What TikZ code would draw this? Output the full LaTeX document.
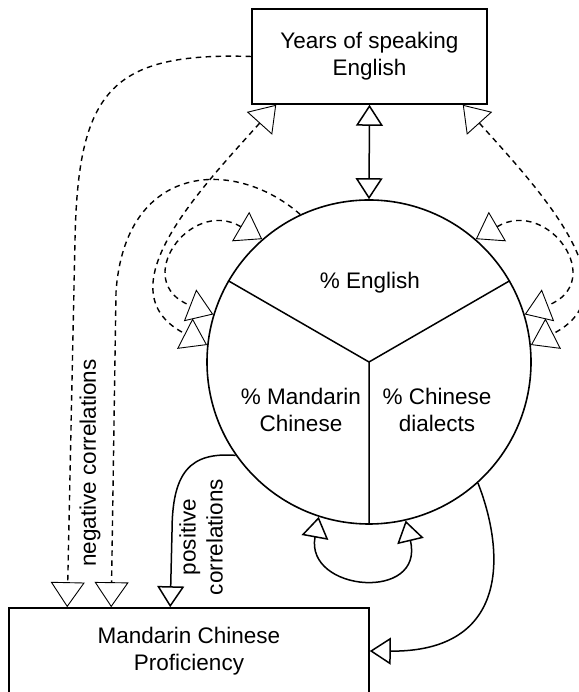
\documentclass[tikz,border=0pt]{standalone}
\usepackage{fontspec}
\setmainfont{Liberation Sans}
\usetikzlibrary{arrows.meta}

\begin{document}
\begin{tikzpicture}[x=1pt, y=1pt, font=\fontsize{22.5}{27}\selectfont,
    box/.style={draw, line width=1.6pt, align=center, inner sep=0pt},
    sol/.style={line width=1.5pt, >={Triangle[open, length=21pt, width=27pt]}},
    neg/.style={line width=1.4pt, dash pattern=on 5.5pt off 4.5pt, >={Triangle[open, length=25pt, width=34pt, line width=0.9pt]}}]
\useasboundingbox (0,0) rectangle (578,692);

\node[box, minimum width=235pt, minimum height=95pt] (yrs) at (369.5,635.5) {Years of speaking\\English};
\node[box, minimum width=360pt, minimum height=86pt] (prof) at (189,41) {Mandarin Chinese\\Proficiency};
\node[draw, circle, line width=1.6pt, minimum size=324pt, inner sep=0pt] (pie) at (369,330) {};
\draw[line width=1.5pt] (pie.150) -- (pie.center) -- (pie.30) (pie.center) -- (pie.-90);

\node (eng) at (370,409) {\% English};
\node[align=center] (man) at (301,282) {\% Mandarin\\Chinese};
\node[align=center] (dia) at (437,282) {\% Chinese\\dialects};
\node[rotate=90] (neglab) at (90,229) {negative correlations};
\node[rotate=90, align=center] (poslab) at (201,155) {positive\\correlations};

% negative (dashed)
\draw[neg, ->] (yrs.west) .. controls (110,640) and (78,600) .. (75,452) -- ([xshift=59pt]prof.north west);
\draw[neg, ->] (pie.115) .. controls (235,535) and (125,530) .. (116,400) -- ([xshift=103pt]prof.north west);
\draw[neg, <->] ([xshift=25pt]yrs.south west) to[out=228, in=153, looseness=1.2] (pie.174);
\draw[neg, <->] ([xshift=-25pt]yrs.south east) to[out=-48, in=27, looseness=1.2] (pie.6);
\draw[neg, <->] (pie.131) .. controls (190,495) and (130,410) .. (pie.163);
\draw[neg, <->] (pie.49) .. controls (548,495) and (608,410) .. (pie.17);

% positive (solid)
\draw[sol, <->] (yrs.south) -- (pie.north);
\draw[sol, ->] (pie.215) .. controls (190,240) and (172,220) .. (172,160) -- ([xshift=162pt]prof.north west);
\draw[sol, ->] (pie.-48) .. controls (505,140) and (510,40) .. (prof.east);
\draw[sol, <->] (pie.252) .. controls (305,100) and (425,90) .. (pie.283);
\end{tikzpicture}
\end{document}
